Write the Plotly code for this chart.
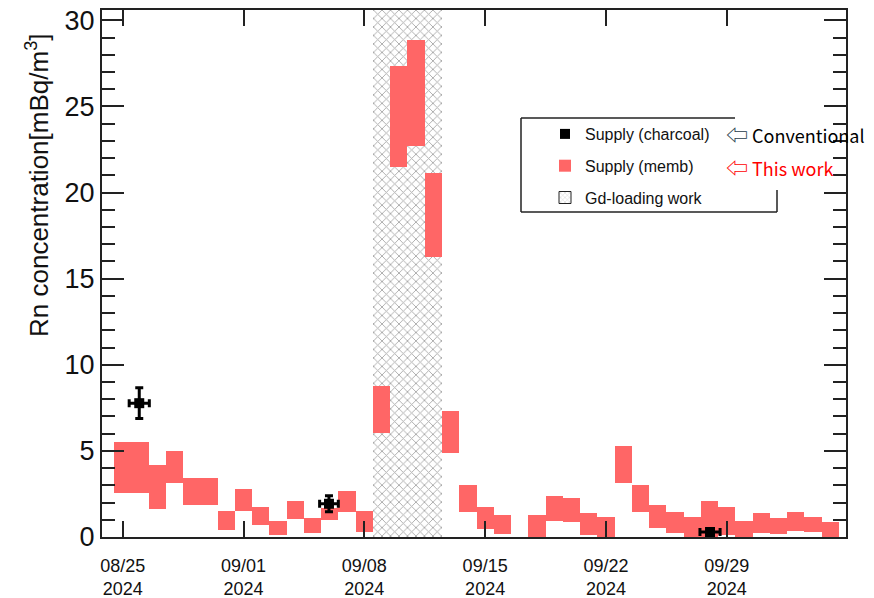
import plotly.graph_objects as go
import pandas as pd

W, H = 874, 598
L, R, T, B = 102, 28, 10, 61

# Daily Rn concentration from the membrane monitor (low / high edge of each box)
memb_date = [
    "2024-08-25", "2024-08-26", "2024-08-27", "2024-08-28", "2024-08-29", "2024-08-30",
    "2024-08-31", "2024-09-01", "2024-09-02", "2024-09-03", "2024-09-04", "2024-09-05",
    "2024-09-06", "2024-09-07", "2024-09-08", "2024-09-09", "2024-09-10", "2024-09-11",
    "2024-09-12", "2024-09-13", "2024-09-14", "2024-09-15", "2024-09-16",
    "2024-09-18", "2024-09-19", "2024-09-20", "2024-09-21", "2024-09-22", "2024-09-23",
    "2024-09-24", "2024-09-25", "2024-09-26", "2024-09-27", "2024-09-28", "2024-09-29",
    "2024-09-30", "2024-10-01", "2024-10-02", "2024-10-03", "2024-10-04", "2024-10-05",
]
memb_low = [
    2.54, 2.54, 1.63, 3.12, 1.86, 1.86,
    0.41, 1.52, 0.70, 0.13, 1.05, 0.21,
    0.99, 1.45, 0.29, 6.05, 21.49, 22.73,
    16.24, 4.88, 1.47, 0.48, 0.16,
    0.00, 0.95, 0.85, 0.13, 0.01, 3.12,
    1.45, 0.55, 0.21, 0.00, 0.00, 0.12,
    0.00, 0.21, 0.17, 0.35, 0.29, 0.02,
]
memb_high = [
    5.51, 5.51, 4.19, 5.02, 3.45, 3.45,
    1.53, 2.76, 1.76, 0.95, 2.11, 1.10,
    1.70, 2.69, 1.51, 8.78, 27.34, 28.86,
    21.12, 7.33, 3.02, 1.76, 1.28,
    1.26, 2.40, 2.27, 1.38, 1.19, 5.27,
    3.01, 1.84, 1.44, 1.18, 2.11, 1.76,
    0.95, 1.38, 1.12, 1.45, 1.18, 0.87,
]

# Charcoal-trap measurements
charcoal_date = ["2024-08-25 23:00", "2024-09-05 22:50", "2024-09-28 00:45"]
charcoal_val = [7.77, 1.93, 0.29]
charcoal_err = [0.89, 0.47, 0.08]
charcoal_span_h = [14, 13, 14]  # half sampling window, hours

# Gd-loading work period
gd_start, gd_end = "2024-09-08 12:00", "2024-09-12 12:00"

tick_dates = ["2024-08-25", "2024-09-01", "2024-09-08", "2024-09-15", "2024-09-22", "2024-09-29"]
x_range_dates = ["2024-08-23 19:12", "2024-10-05 21:50"]
y_range = [0, 30.6]

RED = "#ff6666"
TXT = "#111111"

# time axis in days since the first tick
ORIGIN = pd.Timestamp(tick_dates[0])


def to_days(values):
    return [(pd.Timestamp(v) - ORIGIN) / pd.Timedelta(days=1) for v in values]


md = to_days(memb_date)
gs, ge = to_days([gd_start, gd_end])

fig = go.Figure()

# hatched band for the Gd-loading work
fig.add_trace(go.Bar(
    x=[(gs + ge) / 2], y=[y_range[1]], base=[0], width=[ge - gs],
    marker=dict(color="white", line=dict(width=0),
                pattern=dict(shape="x", fgcolor="#a9a9a9", bgcolor="white",
                             size=6, solidity=0.28, fillmode="replace")),
    showlegend=False, hoverinfo="skip",
))

# membrane boxes
fig.add_trace(go.Bar(
    x=md, base=memb_low,
    y=[h - l for h, l in zip(memb_high, memb_low)],
    width=[1.0] * len(md),
    marker=dict(color=RED, line=dict(width=0)),
    name="Supply (memb)", legendgroup="b", legendrank=2,
))

# legend entry for the hatched band
fig.add_trace(go.Bar(
    x=[None], y=[None],
    marker=dict(color="white", line=dict(width=1, color="#222"),
                pattern=dict(shape="x", fgcolor="#a9a9a9", bgcolor="white",
                             size=4, solidity=0.3)),
    name="Gd-loading work", legendgroup="c", legendrank=3,
))

# charcoal points
fig.add_trace(go.Scatter(
    x=to_days(charcoal_date), y=charcoal_val, mode="markers",
    marker=dict(symbol="square", size=10, color="black"),
    error_y=dict(type="data", array=charcoal_err, color="black", thickness=3, width=4),
    error_x=dict(type="data", array=[h / 24 for h in charcoal_span_h],
                 color="black", thickness=3, width=4),
    name="Supply (charcoal)", legendgroup="a", legendrank=1,
))

axis_common = dict(showline=True, linecolor="#222", linewidth=2, mirror="ticks",
                   ticks="inside", tickcolor="#222", tickwidth=2, showgrid=False,
                   zeroline=False)

fig.update_xaxes(
    type="linear", range=to_days(x_range_dates),
    tickvals=to_days(tick_dates),
    ticktext=[pd.Timestamp(d).strftime("%m/%d<br>%Y") for d in tick_dates],
    ticklen=16, tickfont=dict(family="Arial", size=18, color=TXT),
    ticklabelstandoff=11,
    **axis_common,
)
fig.update_yaxes(
    range=y_range, tickvals=[0, 5, 10, 15, 20, 25, 30], ticklen=22,
    tickfont=dict(family="Arial", size=27, color=TXT),
    minor=dict(dtick=1, ticklen=13, ticks="inside", tickcolor="#222", tickwidth=2),
    **axis_common,
)


def px_x(p):
    return (p - L) / (W - L - R)


def px_y(p):
    return 1 - (p - T) / (H - T - B)


# legend frame
frame = [(521, 118, 735, 118), (521, 118, 521, 212), (521, 212, 777, 212), (777, 190, 777, 212)]
for x0, y0, x1, y1 in frame:
    fig.add_shape(type="line", xref="paper", yref="paper",
                  x0=px_x(x0), y0=px_y(y0), x1=px_x(x1), y1=px_y(y1),
                  line=dict(color="#222", width=1.5), layer="above")

fig.add_annotation(
    text="Rn concentration[mBq/m<sup>3</sup>]", textangle=-90,
    xref="paper", yref="paper", x=px_x(38), y=px_y(185),
    xanchor="center", yanchor="middle",
    showarrow=False, font=dict(family="Arial", size=26, color=TXT),
)
fig.add_annotation(
    text="<span style='color:#1d3b4a;font-size:22px'>⇦</span> Conventional",
    xref="paper", yref="paper", x=px_x(724), y=px_y(133), xanchor="left", yanchor="middle",
    showarrow=False, font=dict(family="Noto Sans CJK JP", size=18, color="black"),
)
fig.add_annotation(
    text="<span style='font-size:22px'>⇦</span> This work",
    xref="paper", yref="paper", x=px_x(724), y=px_y(166), xanchor="left", yanchor="middle",
    showarrow=False, font=dict(family="Noto Sans CJK JP", size=18, color="#ff0000"),
)

fig.update_layout(
    width=W, height=H, margin=dict(l=L, r=R, t=T, b=B, autoexpand=False),
    plot_bgcolor="white", paper_bgcolor="white",
    barmode="overlay", bargap=0,
    legend=dict(xref="paper", yref="paper", x=px_x(545), y=px_y(117),
                xanchor="left", yanchor="top", bgcolor="rgba(0,0,0,0)", borderwidth=0,
                font=dict(family="Arial", size=16, color=TXT), tracegroupgap=8,
                itemwidth=30),
    showlegend=True,
)

fig.write_html("out.html")
